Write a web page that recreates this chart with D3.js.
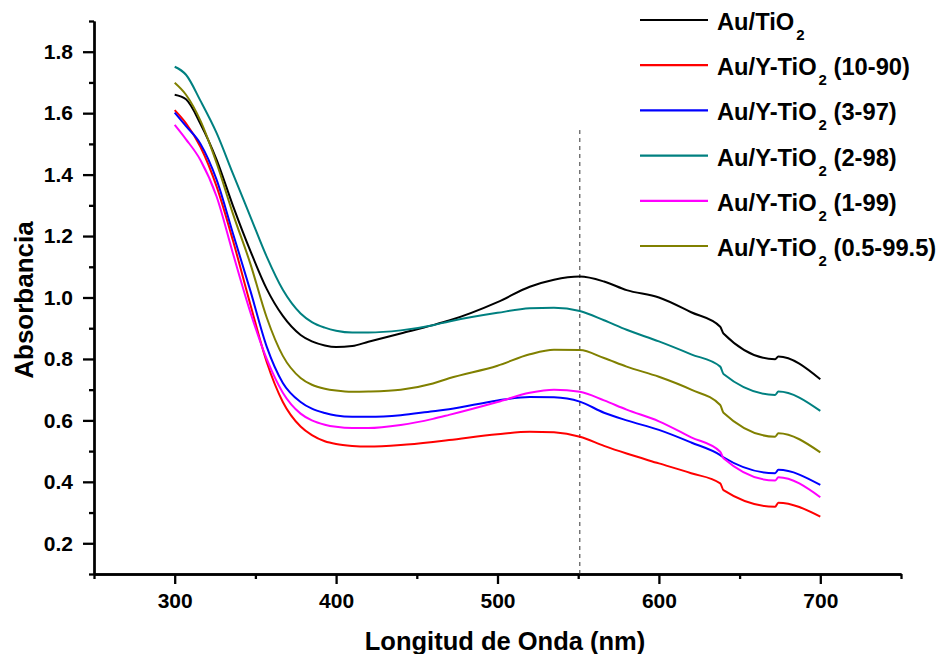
<!DOCTYPE html>
<html><head><meta charset="utf-8">
<script src="https://cdn.jsdelivr.net/npm/d3@7"></script>
<style>
body{margin:0;background:#fff}
text{font-family:"Liberation Sans",Arial,sans-serif;font-weight:bold;fill:#000}
</style></head>
<body><svg id="c" width="940" height="654"></svg>
<script>
// ---- data ----
const wavelengths = [300,307,316,326,336,347,357,367,378,385,393,400,410,420,440,460,470,500,520,535,551,566,580,600,620,638,640,672,674,700];
const absAuTiO2   = [1.660,1.645,1.565,1.448,1.300,1.150,1.028,0.940,0.878,0.857,0.844,0.839,0.842,0.856,0.883,0.910,0.925,0.985,1.035,1.058,1.068,1.052,1.024,1.000,0.952,0.905,0.883,0.799,0.808,0.734];
const absY10_90   = [1.610,1.567,1.490,1.361,1.187,0.975,0.790,0.660,0.580,0.552,0.532,0.523,0.517,0.515,0.520,0.530,0.536,0.555,0.563,0.561,0.547,0.517,0.492,0.460,0.428,0.395,0.373,0.319,0.332,0.287];
const absY3_97    = [1.602,1.558,1.500,1.383,1.210,1.020,0.840,0.722,0.660,0.638,0.624,0.616,0.612,0.612,0.617,0.630,0.636,0.665,0.676,0.675,0.661,0.625,0.600,0.569,0.528,0.487,0.480,0.428,0.439,0.390];
const absY2_98    = [1.751,1.725,1.640,1.535,1.404,1.262,1.133,1.025,0.948,0.920,0.902,0.892,0.886,0.886,0.893,0.910,0.922,0.950,0.965,0.967,0.956,0.926,0.895,0.857,0.815,0.775,0.751,0.683,0.694,0.631];
const absY1_99    = [1.562,1.515,1.447,1.328,1.145,0.950,0.800,0.690,0.622,0.600,0.586,0.579,0.575,0.575,0.585,0.605,0.618,0.660,0.690,0.700,0.693,0.665,0.635,0.597,0.545,0.498,0.477,0.404,0.415,0.350];
const absY05_995  = [1.699,1.660,1.575,1.437,1.274,1.108,0.935,0.810,0.738,0.716,0.703,0.697,0.693,0.694,0.700,0.720,0.737,0.778,0.815,0.830,0.829,0.803,0.775,0.742,0.700,0.650,0.625,0.547,0.558,0.496];

const seriesValues = [absAuTiO2, absY10_90, absY3_97, absY2_98, absY1_99, absY05_995];
const legendMain   = ["Au/TiO","Au/Y-TiO","Au/Y-TiO","Au/Y-TiO","Au/Y-TiO","Au/Y-TiO"];
const legendSub    = ["2","2","2","2","2","2"];
const legendSuffix = [""," (10-90)"," (3-97)"," (2-98)"," (1-99)"," (0.5-99.5)"];
const seriesColors = ["#000000","#ff0000","#0000ff","#008080","#ff00ff","#808000"];

const xMajorTicks = [300,400,500,600,700];
const xMinorTicks = [250,350,450,550,650,750];
const yMajorTicks = [0.2,0.4,0.6,0.8,1.0,1.2,1.4,1.6,1.8];
const yMinorTicks = [0.1,0.3,0.5,0.7,0.9,1.1,1.3,1.5,1.7,1.9];
const markerWavelength = 551;
const markerTop = 1.545;

const xTitle = "Longitud de Onda (nm)";
const yTitle = "Absorbancia";

// ---- drawing ----
const svg = d3.select("#c");
svg.append("rect").attr("width",940).attr("height",654).attr("fill","#fff");

const x = d3.scaleLinear().domain([250,750]).range([94,901]);
const y = d3.scaleLinear().domain([0.1,1.9]).range([574,21]);

function styleAxis(g){
  g.selectAll("path,line").attr("stroke","#000").attr("stroke-width",2.3);
  g.selectAll("text").style("font-size","21px").attr("fill","#000");
}

svg.append("g").attr("transform",`translate(0,${y(0.1)})`)
  .call(d3.axisBottom(x).tickValues(xMinorTicks).tickSize(5).tickSizeOuter(0).tickFormat(""))
  .call(styleAxis);
svg.append("g").attr("transform",`translate(0,${y(0.1)})`)
  .call(d3.axisBottom(x).tickValues(xMajorTicks).tickSize(10).tickPadding(9).tickSizeOuter(0).tickFormat(d3.format("d")))
  .call(styleAxis);

svg.append("g").attr("transform",`translate(${x(250)},0)`)
  .call(d3.axisLeft(y).tickValues(yMinorTicks).tickSize(5).tickSizeOuter(0).tickFormat(""))
  .call(styleAxis);
svg.append("g").attr("transform",`translate(${x(250)},0)`)
  .call(d3.axisLeft(y).tickValues(yMajorTicks).tickSize(11).tickPadding(10).tickSizeOuter(0).tickFormat(d3.format(".1f")))
  .call(styleAxis);

svg.append("line")
  .attr("x1",x(markerWavelength)).attr("x2",x(markerWavelength))
  .attr("y1",y(0.1)).attr("y2",y(markerTop))
  .attr("stroke","#333").attr("stroke-width",1).attr("stroke-dasharray","4,4");

const line = d3.line()
  .x((d,i)=>x(wavelengths[i]))
  .y(d=>y(d))
  .curve(d3.curveMonotoneX);

svg.append("g").selectAll("path").data(seriesValues).join("path")
  .attr("d",line)
  .attr("fill","none")
  .attr("stroke",(d,i)=>seriesColors[i])
  .attr("stroke-width",2)
  .attr("stroke-linejoin","round");

const leg = svg.append("g");
seriesValues.forEach((s,i)=>{
  const ry = 20 + i*45.2;
  leg.append("line").attr("x1",640).attr("x2",708).attr("y1",ry).attr("y2",ry)
    .attr("stroke",seriesColors[i]).attr("stroke-width",2.2);
  const t = leg.append("text").attr("x",717).attr("y",ry+10).style("font-size","23.7px");
  t.append("tspan").text(legendMain[i]);
  t.append("tspan").attr("dx",2).attr("dy",10).style("font-size","15px").text(legendSub[i]);
  if (legendSuffix[i]) t.append("tspan").attr("dy",-10).text(legendSuffix[i]);
});

svg.append("text").attr("x",505).attr("y",650).attr("text-anchor","middle")
  .style("font-size","25.5px").text(xTitle);
svg.append("text").attr("transform","translate(33,300) rotate(-90)").attr("text-anchor","middle")
  .style("font-size","26px").text(yTitle);
</script></body></html>
